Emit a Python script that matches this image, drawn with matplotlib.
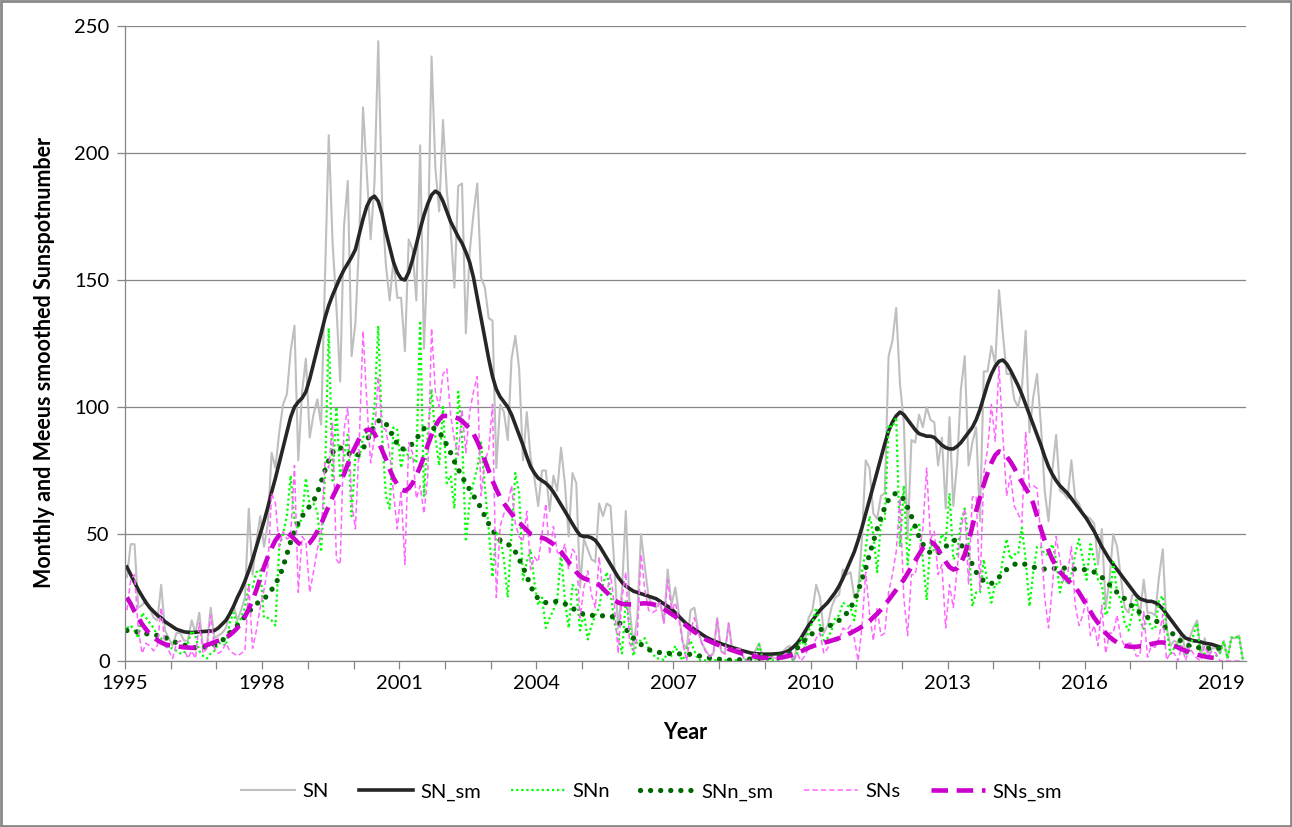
import numpy as np
import matplotlib
matplotlib.use("Agg")
import matplotlib.pyplot as plt
from matplotlib.patches import Rectangle

plt.rcParams['font.family'] = ['Lato', 'DejaVu Sans']

# Monthly values, Jan 1995 .. Jun 2019 (one line per year)
sn = [
    33, 46, 46, 21, 22, 24, 21, 17, 16, 30, 12, 9,
    6, 11, 11, 8, 8, 16, 11, 19, 5, 6, 21, 9,
    10, 11, 13, 19, 22, 16, 20, 25, 60, 34, 47, 57,
    45, 54, 82, 76, 90, 101, 105, 122, 132, 79, 106, 119,
    88, 97, 103, 93, 150, 207, 165, 140, 110, 171, 189, 120,
    133, 166, 218, 192, 166, 188, 244, 181, 156, 142, 158, 143,
    143, 122, 166, 162, 142, 203, 123, 162, 238, 194, 177, 213,
    185, 170, 147, 187, 188, 129, 161, 176, 188, 151, 147, 135,
    134, 76, 101, 98, 87, 119, 128, 115, 79, 98, 80, 72,
    61, 75, 75, 59, 73, 67, 84, 70, 49, 74, 70, 29,
    48, 44, 40, 39, 62, 57, 62, 61, 37, 13, 28, 59,
    21, 6, 17, 50, 37, 25, 22, 21, 24, 15, 36, 22,
    29, 18, 7, 5, 20, 21, 12, 7, 4, 2, 3, 17,
    4, 3, 15, 4, 5, 5, 1, 0.3, 1, 4, 7, 1,
    1.5, 2, 1.2, 1, 3, 5, 6, 0, 6, 9, 7, 17,
    20, 30, 25, 11, 14, 21, 25, 26, 36, 34, 35, 25,
    27, 48, 79, 76, 58, 56, 65, 66, 120, 126, 139, 109,
    94, 48, 87, 86, 97, 92, 100, 95, 94, 77, 88, 60,
    96, 61, 78, 107, 120, 77, 86, 92, 55, 114, 114, 124,
    117, 146, 129, 113, 113, 103, 100, 107, 130, 90, 104, 113,
    93, 67, 55, 75, 89, 67, 66, 64, 79, 64, 62, 58,
    57, 56, 54, 38, 52, 21, 32, 50, 45, 33, 21, 19,
    26, 26, 18, 32, 19, 19, 18, 33, 44, 13, 6, 8,
    7, 11, 3, 9, 13, 16, 2, 9, 3, 5, 5, 3,
    8, 1, 9, 9, 10, 1,
]

snn = [
    13, 14, 12, 9, 19, 17, 15, 13, 10, 9, 6, 5,
    5, 4, 3, 3, 7, 12, 10, 4, 2, 1, 3, 4,
    7, 7, 6, 15, 19, 14, 17, 21, 30, 29, 35, 36,
    17, 17, 16, 14, 45, 50, 57, 73, 55, 52, 57, 72,
    61, 62, 59, 43, 72, 131, 71, 100, 72, 80, 89, 57,
    81, 80, 88, 90, 88, 100, 132, 89, 65, 60, 92, 91,
    76, 84, 80, 80, 78, 134, 65, 89, 107, 88, 77, 100,
    70, 73, 60, 106, 89, 47, 63, 70, 76, 86, 68, 52,
    33, 51, 48, 40, 25, 50, 74, 66, 32, 39, 44, 31,
    22, 25, 13, 17, 20, 24, 43, 24, 13, 30, 28, 12,
    19, 8.5, 14, 18, 21, 30, 35, 27, 15, 10, 3, 24,
    14, 2, 8, 8, 9, 5, 3, 1, 1, 0.3, 3.6, 2,
    6, 2, 0.3, 5, 8, 4, 0.5, 0.3, 0.3, 0.3, 0.3, 0.3,
    0.3, 0.3, 0.3, 0.3, 0.3, 0.3, 0.3, 0.3, 0.3, 0.3, 6.5, 0.5,
    0.3, 0.3, 0.3, 0.3, 1, 2, 3, 0, 3, 9, 5, 12,
    15, 21, 14, 8, 9, 12, 17, 18, 23, 22, 21, 16,
    27, 35, 44, 57, 50, 35, 55, 55, 93, 92, 96, 45,
    69, 38, 53, 52, 54, 40, 24, 47, 43, 43, 50, 47,
    66, 40, 42, 55, 60, 47, 21.5, 27, 27, 40, 30.5, 23,
    30.5, 30, 40, 48, 40, 42, 42, 52.5, 40, 21.5, 35, 45,
    45, 42, 42, 46, 40, 27, 35, 30, 34, 42, 48, 40,
    32, 46, 40, 32, 30, 18, 21, 39, 27, 24, 15, 12,
    19, 24, 16, 12.6, 17.5, 13, 12.6, 24, 25.6, 12.6, 2.8, 5,
    7, 5, 2.8, 3.6, 10, 15, 2, 3, 1, 1, 2, 3,
    7.7, 1, 9.3, 9, 10, 0.5,
]

sns_ = [
    20, 32, 34, 12, 3, 7, 6, 4, 6, 21, 6, 4,
    1, 7, 8, 5, 1, 4, 1, 15, 3, 5, 18, 5,
    3, 4, 7, 4, 3, 2, 3, 4, 30, 5, 12, 21,
    28, 37, 66, 62, 45, 51, 48, 49, 77, 27, 49, 47,
    27, 35, 44, 50, 78, 76, 94, 40, 38, 91, 100, 63,
    52, 86, 130, 102, 78, 88, 112, 92, 91, 82, 66, 52,
    67, 38, 86, 82, 64, 69, 58, 73, 131, 106, 100, 113,
    115, 97, 87, 81, 99, 82, 98, 106, 112, 65, 79, 83,
    101, 25, 53, 58, 62, 69, 54, 49, 47, 59, 36, 41,
    39, 50, 62, 42, 53, 43, 41, 46, 36, 44, 42, 17,
    29, 35.5, 26, 21, 41, 27, 27, 34, 22, 3, 25, 35,
    7, 4, 9, 42, 28, 20, 19, 20, 23, 15, 32, 20,
    23, 16, 6.7, 0, 12, 17, 11.5, 6.7, 3.7, 1.7, 2.7, 16.7,
    3.7, 2.7, 14.7, 3.7, 4.7, 4.7, 0.7, 0, 0.7, 3.7, 0.5, 0.5,
    1.2, 1.7, 0.9, 0.7, 2, 3, 3, 0, 3, 0, 2, 5,
    5, 9, 11, 3, 5, 9, 8, 8, 13, 12, 14, 9,
    0, 13, 35, 19, 8, 21, 10, 11, 27, 34, 43, 64,
    25, 10, 34, 34, 43, 52, 76, 48, 51, 34, 38, 13,
    30, 21, 36, 52, 60, 30, 64.5, 65, 28, 74, 83.5, 101,
    86.5, 116, 89, 65, 73, 61, 58, 54.5, 90, 68.5, 69, 68,
    48, 25, 13, 29, 49, 40, 31, 34, 45, 22, 14, 18,
    25, 10, 14, 6, 22, 3, 11, 11, 18, 9, 6, 7,
    7, 2, 2, 19.4, 1.5, 6, 5.4, 9, 18.4, 0.4, 3.2, 3,
    0, 6, 0.2, 5.4, 3, 1, 0, 6, 2, 4, 3, 0,
    0.3, 0, 0, 0, 0, 0.5,
]

# Meeus smoothed values, Jan 1995 .. Dec 2018
sn_sm = [
    37, 34, 31, 28, 25.5, 23, 21, 19.5, 18, 17, 15.5, 14.5,
    13.5, 12.5, 12, 11.5, 11.3, 11.2, 11.3, 11.5, 11.6, 11.7, 11.8, 12,
    13, 14.5, 16, 18.5, 21.5, 25, 28, 31.5, 35.5, 40, 45, 50,
    55, 60.5, 66.5, 72, 78, 84, 90, 96, 100, 102, 103.5, 106,
    111, 117, 123, 129, 135, 140, 144, 147.5, 151, 154, 156.5, 159,
    162, 168, 174, 179, 182, 183, 181, 176, 169, 163, 157, 153,
    150.5, 150, 153, 158, 164, 170, 175.5, 180, 183.5, 185, 184, 181,
    177, 173, 170, 167, 164.5, 161, 157, 151, 143, 135, 127, 119,
    112, 107, 104, 102, 100, 97, 93, 89, 85, 80.5, 76.5, 74,
    72, 71, 70, 68.5, 66.5, 64, 61.5, 59, 56.5, 54, 51.5, 49.5,
    49, 49, 48.5, 47.5, 45.5, 43, 40.5, 38, 35.5, 33, 31, 29.5,
    28.5, 27.5, 27, 26.5, 26, 25.5, 25, 24.5, 23.5, 22.5, 21.5, 20.5,
    19, 17.5, 16, 14.5, 13.5, 12.5, 11.5, 10.5, 9.5, 8.7, 8, 7.4,
    6.8, 6.3, 5.8, 5.3, 4.8, 4.3, 3.9, 3.5, 3.1, 2.9, 2.8, 2.7,
    2.7, 2.7, 2.8, 2.9, 3.1, 3.5, 4.3, 5.5, 7, 9, 11.5, 14,
    16, 18, 20, 21.5, 23, 25, 27, 29.5, 32.5, 36, 39.5, 43,
    47.5, 52.5, 58, 63.5, 69, 74.5, 80, 85.5, 90.5, 94, 96.5, 98,
    97, 95, 93, 91, 89.5, 89, 88.5, 88.5, 88, 86.5, 85, 84,
    83.5, 83.5, 84.5, 86, 88, 90, 92, 95, 99, 104, 109, 113,
    116, 118, 118.5, 117, 114.5, 111.5, 108.5, 105, 101, 97, 93, 89,
    85, 80.5, 76.5, 73.5, 71, 69, 67.5, 66, 64, 62, 60, 58,
    56, 53.5, 51, 48, 45, 42.5, 40, 38, 36, 34, 32, 30,
    28, 26, 24.5, 24, 23.5, 23.5, 23, 22, 20.5, 18.5, 16.5, 14.5,
    12.5, 10.5, 9, 8.5, 8, 7.8, 7.5, 7, 6.8, 6.5, 6, 5.5,
]

snn_sm = [
    12, 11.8, 11.6, 11.4, 11.1, 10.8, 10.4, 10.2, 10.1, 10, 9.3, 8.5,
    7.8, 7.2, 6.7, 6.3, 5.8, 5.4, 5.2, 5.2, 5.4, 5.6, 5.9, 6.3,
    7, 8, 9.5, 11, 12.5, 14, 15.8, 17.5, 19.3, 21, 22.5, 23.5,
    24.5, 26, 28, 30.5, 33, 37, 42, 47, 51, 54.5, 57, 59,
    61, 63, 66, 70.5, 75, 79, 82, 84, 84, 83, 82, 81,
    80.5, 81.5, 83.5, 86.5, 90, 92.5, 94.5, 95, 93.5, 91, 88, 85.5,
    83.5, 83.5, 84.5, 85.5, 87.5, 89.5, 91.5, 92, 91.7, 91.5, 90, 88,
    85, 82, 78.5, 75.5, 72.5, 70, 67.5, 65, 63, 60, 57, 54,
    51.5, 49.5, 47.5, 46.5, 46, 45, 43, 40, 37, 33.5, 29.5, 26.5,
    24.5, 23.5, 23, 23, 23.3, 23.5, 23, 22.5, 22, 21, 19.5, 18.8,
    18.5, 18.2, 18, 17.8, 17.8, 17.8, 17.8, 17.8, 17, 15.5, 14, 12.5,
    11, 9, 7.7, 6.5, 5.3, 4.5, 4, 3.6, 3.3, 3.1, 3, 2.9,
    2.9, 2.8, 2.8, 2.7, 2.6, 2.4, 2.1, 1.8, 1.5, 1.2, 1, 0.8,
    0.6, 0.5, 0.4, 0.3, 0.4, 0.5, 0.6, 0.7, 0.8, 0.9, 1, 1.2,
    1.4, 1.6, 1.9, 2.1, 2.3, 2.5, 3, 3.8, 5, 6.5, 8.2, 9.8,
    10.8, 11.6, 12.2, 12.8, 13.5, 14.2, 15, 16, 17.2, 18.8, 21, 23.5,
    27.5, 32, 36.5, 42, 47, 52, 56.5, 60.5, 63.5, 65.5, 66, 65.5,
    63.5, 60.5, 57, 53, 49, 46, 44, 42.5, 42, 42.5, 43.5, 45,
    46.5, 47.5, 47.5, 46, 43.5, 41, 38, 35, 33, 31.5, 30.5, 30.5,
    31.5, 33, 34.5, 36, 37, 38, 38.5, 38.5, 38, 37.5, 37, 36.5,
    36.3, 36.2, 36.2, 36.3, 36.5, 36.6, 36.6, 36.4, 36.2, 36.2, 36.1, 36,
    35.9, 35.5, 35, 34.3, 33, 31.5, 30, 28.5, 27, 25.5, 24.5, 23,
    21.5, 20.3, 19, 18, 17.2, 16.7, 16, 15, 14, 12.8, 11.5, 10.2,
    8.8, 7.5, 6.5, 6, 5.5, 5.3, 5.2, 5.1, 5, 5, 5, 5,
]

sns_sm = [
    25, 22.5, 19.5, 17, 14.5, 12.5, 10.5, 9.3, 8.2, 7.3, 6.6, 6.2,
    6, 5.8, 5.6, 5.4, 5.3, 5.2, 5.2, 5.4, 5.8, 6.3, 6.8, 7.4,
    8, 8.5, 9.2, 10.2, 11.5, 13, 15, 17.5, 20.5, 24, 28, 32.5,
    37, 41, 44.5, 47.5, 49.5, 50.5, 50.5, 49.5, 48, 46.5, 45.5, 45.5,
    46.5, 48.5, 51, 54, 57.5, 61, 64.5, 67.5, 70.5, 73.5, 77.5, 81.5,
    84.5, 87.5, 90, 91, 91, 89.5, 86.5, 83, 79.5, 75.5, 72, 69.5,
    67.5, 67, 68, 70, 73, 76.5, 80.5, 85, 89, 92.5, 95, 96.5,
    96.5, 96.5, 96, 95.5, 94.5, 93, 91.5, 89.5, 86.5, 83, 79, 75,
    71, 67.5, 64.5, 62, 60, 58, 56, 54.5, 53, 51.5, 50, 49.5,
    49, 48.5, 48, 47, 46, 44.5, 43, 41, 39, 37, 35, 33.5,
    32.5, 32, 31.5, 31, 30, 28.5, 27, 25.5, 24, 23, 22.5, 22.3,
    22.3, 22.3, 22.5, 22.6, 22.7, 22.6, 22.4, 22, 21.5, 20.5, 19.5, 18.5,
    17.5, 16.2, 15, 13.7, 12.6, 11.5, 10.5, 9.5, 8.5, 7.8, 7.1, 6.5,
    5.9, 5.3, 4.7, 4.2, 3.7, 3.2, 2.8, 2.4, 2.0, 1.7, 1.5, 1.3,
    1.2, 1.1, 1.1, 1.2, 1.4, 1.7, 2.1, 2.6, 3.2, 3.8, 4.5, 5.2,
    5.8, 6.3, 6.8, 7.2, 7.6, 8, 8.5, 9, 9.6, 10.3, 11, 11.8,
    12.6, 13.5, 14.5, 15.8, 17.2, 18.6, 20.2, 22, 24, 26, 28, 30,
    32, 34.5, 37, 39.5, 42, 44.5, 46.5, 47, 46, 44, 41.5, 39,
    37, 36, 36.5, 38.5, 42, 47, 53, 59, 64.5, 69.5, 74, 78,
    81, 82.5, 82, 80.5, 78.5, 76, 73, 70.5, 68, 65.5, 62, 57,
    52, 47.5, 43.5, 40, 37.5, 35, 33.5, 32, 30.5, 29, 27, 24.5,
    22, 19.5, 17, 15, 13, 11, 9.5, 8.3, 7.3, 6.5, 6, 5.7,
    5.6, 5.6, 5.8, 6, 6.3, 6.7, 7, 7.3, 7.3, 7, 6.5, 6,
    5.3, 4.6, 4, 3.4, 2.9, 2.5, 2.1, 1.8, 1.5, 1.3, 1.1, 1,
]

start_year = 1995
label_years = list(range(1995, 2020, 3))

t_raw = start_year + (np.arange(len(sn)) + 0.5) / 12
t_sm = start_year + (np.arange(len(sn_sm)) + 0.5) / 12

fig = plt.figure(figsize=(12.92, 8.27), dpi=100)
ax = fig.add_axes([125 / 1292, 1 - 661 / 827, 1121 / 1292, 635 / 827])

grid_col = '#868686'
ax.plot(t_raw, sn, color='#BFBFBF', lw=1.5, label='SN')
ax.plot(t_sm, sn_sm, color='#262626', lw=2.6, label='SN_sm')
ax.plot(t_raw, snn, color='#00FF00', lw=1.6, linestyle=(0, (1, 1.3)), label='SNn')
ax.plot(t_sm, snn_sm, color='#006600', lw=3.8, linestyle=(0, (0.01, 1.9)),
        dash_capstyle='round', label='SNn_sm')
ax.plot(t_raw, sns_, color='#FF66FF', lw=1.1, linestyle=(0, (3.5, 2)), label='SNs')
ax.plot(t_sm, sns_sm, color='#CC00CC', lw=3.3, linestyle=(0, (3.6, 1.9)), label='SNs_sm')

ax.set_xlim(1995, 1995 + 1121 / 45.7)
ax.set_ylim(0, 250)
ax.set_yticks(range(0, 251, 50))
ax.yaxis.grid(True, color=grid_col, lw=0.9)
ax.set_axisbelow(True)

ax.set_xticks(range(1995, 2020))
ax.set_xticklabels([str(y) if y in label_years else '' for y in range(1995, 2020)])
ax.tick_params(axis='x', length=6, width=0.9, color=grid_col, labelsize=14.5, pad=4)
ax.tick_params(axis='y', length=6, width=0.9, color=grid_col, labelsize=14.5, pad=5)

for s in ['top', 'right']:
    ax.spines[s].set_visible(False)
for s in ['left', 'bottom']:
    ax.spines[s].set_color(grid_col)
    ax.spines[s].set_linewidth(0.9)

ax.set_xlabel('Year', fontsize=15.5, fontweight='bold', labelpad=22)
ax.set_ylabel('Monthly and Meeus smoothed Sunspotnumber', fontsize=15.5,
              fontweight='bold')
ax.yaxis.set_label_coords(-0.062, 0.47)

leg = fig.legend(loc='center', bbox_to_anchor=(651 / 1292, 1 - 792 / 827), ncol=6,
                 frameon=False, fontsize=14.5, handlelength=2.7, columnspacing=1.5,
                 handletextpad=0.35)

fig.patches.append(Rectangle((0.001, 0.001), 0.998, 0.998, transform=fig.transFigure,
                             fill=False, edgecolor='#898989', lw=2))

fig.savefig('out.png', dpi=100)
